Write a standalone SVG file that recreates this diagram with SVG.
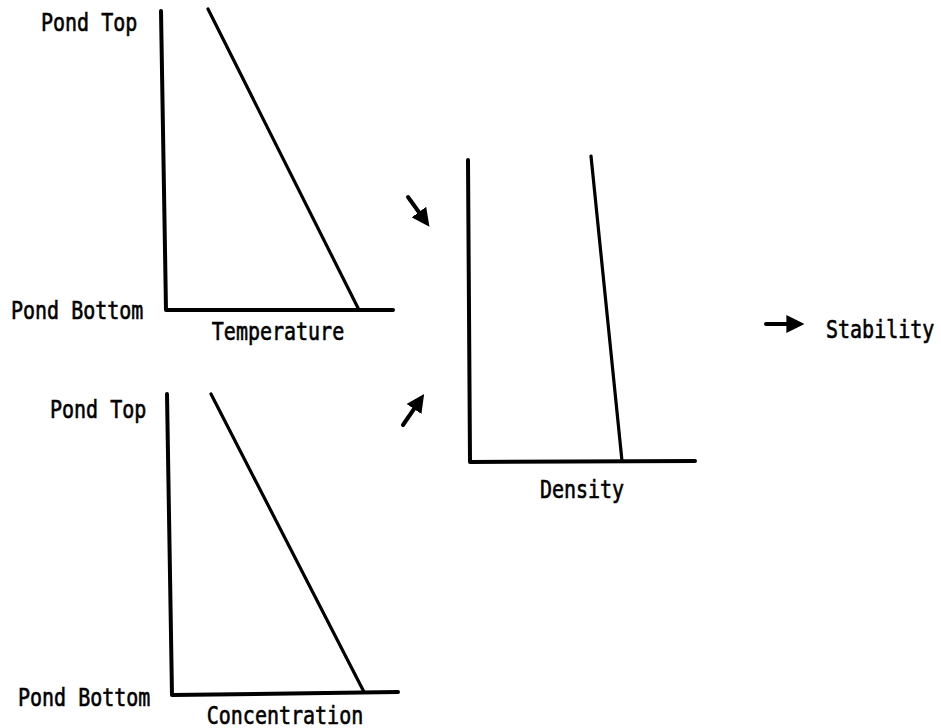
<svg xmlns="http://www.w3.org/2000/svg" width="941" height="728" viewBox="0 0 941 728">
<defs>
<style>
.t{font-family:"DejaVu Sans Mono","Liberation Mono",monospace;font-size:20px;fill:#000;stroke:#000;stroke-width:0.5}
.ax{stroke:#000;stroke-width:4;fill:none;stroke-linecap:round;stroke-linejoin:round}
.cv{stroke:#000;stroke-width:3.2;fill:none;stroke-linecap:round}
.ar{stroke:#000;stroke-width:4;fill:none;stroke-linecap:round}
</style>
<marker id="ah" viewBox="0 0 10 10" refX="2" refY="5" markerWidth="4.5" markerHeight="4.5" orient="auto" markerUnits="strokeWidth">
<path d="M0,0 L10,5 L0,10 Z" fill="#000"/>
</marker>
</defs>
<rect width="941" height="728" fill="#fff"/>
<g id="temperature-chart">
<path class="ax" d="M161,11 L166,310 L393,310"/>
<path class="cv" d="M208,9 L359,310"/>
<text class="t" transform="translate(41,31) scale(1,1.25)">Pond Top</text>
<text class="t" transform="translate(11,319) scale(1,1.25)">Pond Bottom</text>
<text class="t" transform="translate(278,340) scale(1,1.25)" text-anchor="middle">Temperature</text>
</g>
<g id="concentration-chart">
<path class="ax" d="M167,394 L172,695 L398,692"/>
<path class="cv" d="M211,394 L364,692"/>
<text class="t" transform="translate(50,418) scale(1,1.25)">Pond Top</text>
<text class="t" transform="translate(18,706) scale(1,1.25)">Pond Bottom</text>
<text class="t" transform="translate(285,724) scale(1,1.25)" text-anchor="middle">Concentration</text>
</g>
<g id="density-chart">
<path class="ax" d="M468,160 L470,462 L695,461"/>
<path class="cv" d="M591,156 L622,461"/>
<text class="t" transform="translate(582,498) scale(1,1.25)" text-anchor="middle">Density</text>
</g>
<g id="stability">
<text class="t" transform="translate(826,338) scale(1,1.25)">Stability</text>
</g>
<g id="connectors">
<line class="ar" x1="408" y1="197" x2="421" y2="215" marker-end="url(#ah)"/>
<line class="ar" x1="403" y1="425" x2="416" y2="406" marker-end="url(#ah)"/>
<line class="ar" x1="766" y1="324" x2="790" y2="324" marker-end="url(#ah)"/>
</g>
</svg>
